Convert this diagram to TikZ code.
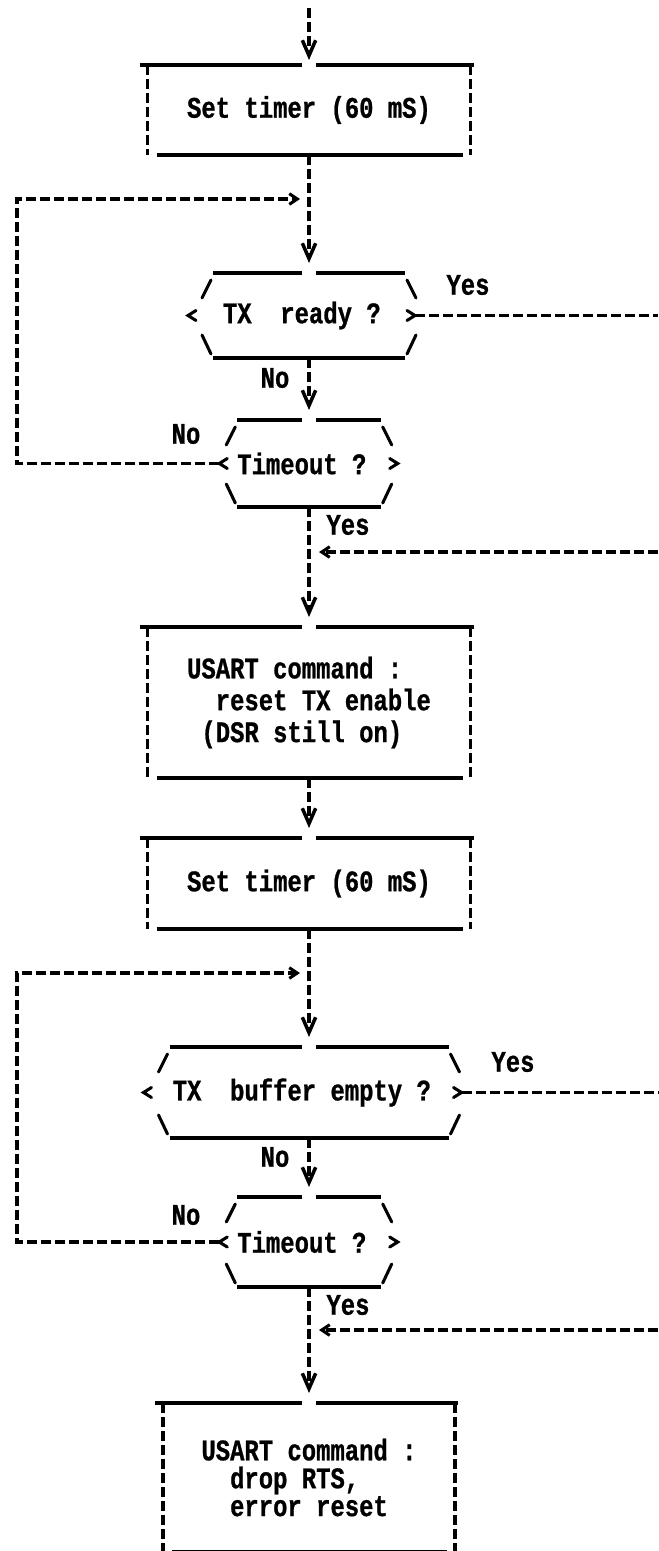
\documentclass[tikz,border=0pt]{standalone}
\usepackage{fontspec}
\newfontfamily\dotmatrix[FakeStretch=0.8,BoldFeatures={FakeBold=0.8}]{Liberation Mono}
\usetikzlibrary{arrows.meta,calc,positioning}

\tikzset{
  every node/.style={font=\dotmatrix\bfseries\fontsize{25.5}{27.2}\selectfont, inner sep=0pt, outer sep=0pt},
  box/.style={rectangle, align=left},
  ask/.style={rectangle},
  flow/.style={line width=2.6pt, dash pattern=on 3mm off 1.2mm},
  bar/.style={line width=3.2pt},
  slant/.style={line width=2.6pt, line cap=round},
  vtip/.style={-{Straight Barb[length=4.6mm,width=4mm,line width=3pt]}},
  htip/.style={-{Straight Barb[length=2.4mm,width=3.2mm,line width=2.6pt]}},
}

\begin{document}
\begin{tikzpicture}[x=0.3mm, y=-0.3mm]
      \useasboundingbox (0,0) rectangle (658,1551);
%      \draw[help lines] (0,0) grid[step=50] (658,1551);

      % steps
      \node[box, minimum width=96.9mm, minimum height=27mm]   (set1)   at (309,110)    {Set timer (60 mS)};
      \node[ask, minimum width=57.6mm, minimum height=25.5mm] (rdy1)   at (309,315.5)  {TX\ \ ready ?\hphantom{x}};
      \node[ask, minimum width=39mm,   minimum height=26.1mm] (to1)    at (309,463.5)  {Timeout ?\hphantom{x}};
      \node[box, minimum width=96.9mm, minimum height=45.3mm] (usart1) at (309,702.5)
            {USART command :\\\hphantom{xx}reset TX enable\\\hphantom{x}(DSR still on)};
      \node[box, minimum width=96.9mm, minimum height=27.3mm] (set2)   at (309,883.5)  {Set timer (60 mS)};
      \node[ask, minimum width=83.7mm, minimum height=27.3mm] (empty)  at (309,1092.5) {TX\ \ buffer empty ?\hphantom{x}};
      \node[ask, minimum width=39mm,   minimum height=27mm]   (to2)    at (309,1242)   {Timeout ?\hphantom{x}};
      \node[box, minimum width=87.6mm, minimum height=44.7mm,
            font=\dotmatrix\bfseries\fontsize{25.5}{23.8}\selectfont] (usart2) at (309,1477.5)
            {USART command :\\\hphantom{xx}drop RTS,\\\hphantom{xx}error reset};

      % answers
      \node (yes1) at (468,285)  {Yes};
      \node (no1)  at (275,378)  {No};
      \node (no2)  at (186,434)  {No};
      \node (yes2) at (348,525)  {Yes};
      \node (yes3) at (513,1062) {Yes};
      \node (no3)  at (275,1157) {No};
      \node (no4)  at (186,1215) {No};
      \node (yes4) at (348,1305) {Yes};

      \coordinate (top)   at (309,8);
      \coordinate (loop1) at (17,199);
      \coordinate (loop2) at (17,973);
      \coordinate (out1)  at (658,315.5);
      \coordinate (in1)   at (658,552);
      \coordinate (out2)  at (658,1092.5);
      \coordinate (in2)   at (658,1330);

      \foreach \b in {set1,usart1,set2,usart2} {
        \draw[bar] ($(\b.north west)+(-8,0)$) -- ($(\b.north)+(-7,0)$);
        \draw[bar] ($(\b.north)+(7,0)$) -- ($(\b.north east)+(3,0)$);
        \draw[bar] ($(\b.south west)+(9,0)$) -- ($(\b.south east)+(-8,0)$);
        \draw[flow] (\b.north west) -- (\b.south west);
        \draw[flow] (\b.north east) -- (\b.south east);
      }

      % \l, \r: where the < and > points sit, outside the bars
      \foreach \q/\l/\r in {rdy1/25/10, to1/18/17, empty/26/13, to2/18/17} {
        \draw[bar] (\q.north west) -- ($(\q.north)+(-7,0)$);
        \draw[bar] ($(\q.north)+(7,0)$) -- (\q.north east);
        \draw[bar] (\q.south west) -- (\q.south east);
        \draw[slant] ($(\q.north west)+(-2,7)$) -- ($(\q.north west)+(-11,25)$);
        \draw[slant] ($(\q.north east)+(2,7)$) -- ($(\q.north east)+(11,25)$);
        \draw[slant] ($(\q.south west)+(-11,-23)$) -- ($(\q.south west)+(-2,-4)$);
        \draw[slant] ($(\q.south east)+(11,-23)$) -- ($(\q.south east)+(2,-4)$);
        \draw[slant] ($(\q.west)+(-\l+8,-5)$) -- ($(\q.west)+(-\l,0)$) -- ($(\q.west)+(-\l+8,5)$);
        \draw[slant] ($(\q.east)+(\r-8,-5)$) -- ($(\q.east)+(\r,0)$) -- ($(\q.east)+(\r-8,5)$);
        \coordinate (\q-l) at ($(\q.west)+(-\l,0)$);
        \coordinate (\q-r) at ($(\q.east)+(\r,0)$);
      }

      \draw[flow,vtip,shorten >=1.5mm] (top) -- (set1.north);
      \draw[flow,vtip,shorten >=3mm] (set1.south) -- (rdy1.north);
      \draw[flow,vtip,shorten >=3mm] (rdy1.south) -- (to1.north);
      \draw[flow,vtip,shorten >=3mm] (to1.south) -- (usart1.north);
      \draw[flow,vtip,shorten >=3mm] (usart1.south) -- (set2.north);
      \draw[flow,vtip,shorten >=3mm] (set2.south) -- (empty.north);
      \draw[flow,vtip,shorten >=3mm] (empty.south) -- (to2.north);
      \draw[flow,vtip,shorten >=3mm] (to2.south) -- (usart2.north);

      \draw[flow,htip,shorten >=2.7mm] (to1-l) -| (loop1) -- (loop1 -| set1.south);
      \draw[flow,htip,shorten >=2.7mm] (to2-l) -| (loop2) -- (loop2 -| set2.south);

      \draw[flow] (rdy1-r) -- (out1);
      \draw[flow,htip,shorten >=3mm] (in1) -- (in1 -| to1.south);
      \draw[flow] (empty-r) -- (out2);
      \draw[flow,htip,shorten >=3mm] (in2) -- (in2 -| to2.south);
\end{tikzpicture}
\end{document}
